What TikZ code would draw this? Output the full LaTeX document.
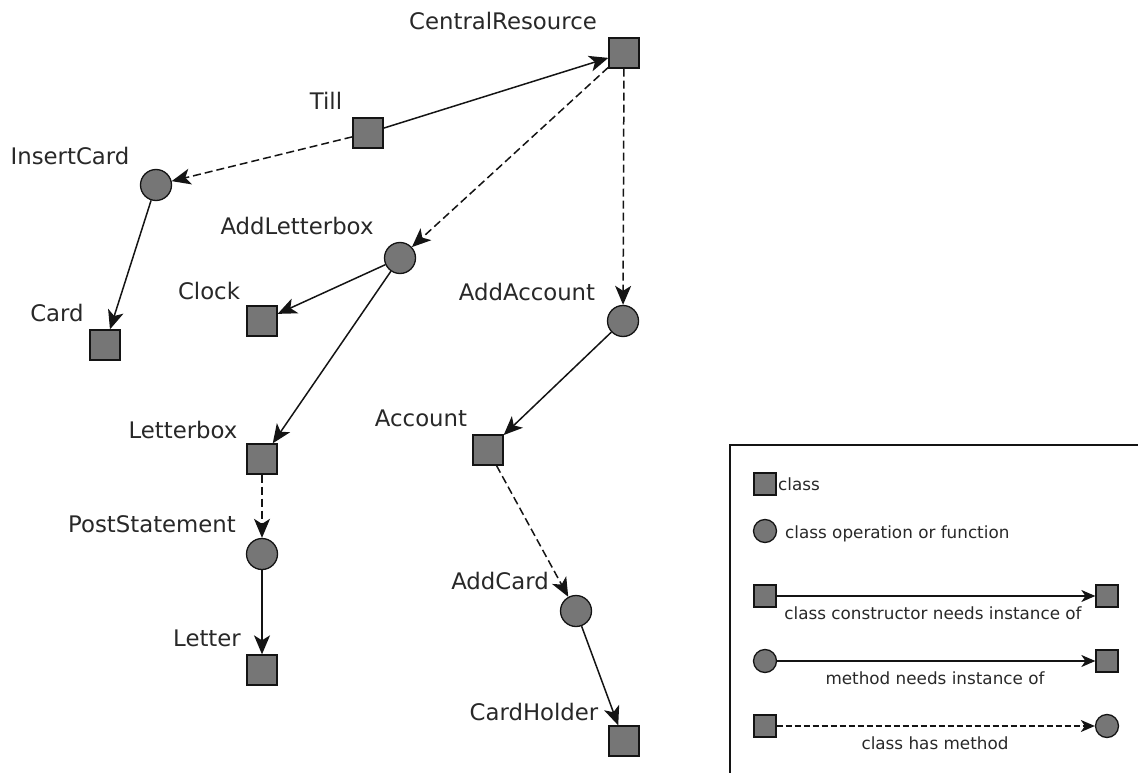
\documentclass[tikz,border=0pt]{standalone}
\usepackage{fontspec}
\setmainfont{DejaVu Sans}
\usetikzlibrary{arrows.meta}

\definecolor{nodefill}{RGB}{118,118,118}
\definecolor{inkcol}{RGB}{20,20,20}
\definecolor{labelcol}{RGB}{40,40,40}

\begin{document}
\begin{tikzpicture}[x=1pt,y=-1pt,
  cls/.style={rectangle,draw=inkcol,fill=nodefill,line width=1.3pt,minimum size=30pt,inner sep=0pt},
  fn/.style={circle,draw=inkcol,fill=nodefill,line width=1.3pt,minimum size=31pt,inner sep=0pt},
  lcls/.style={cls,minimum size=22pt},
  lfn/.style={fn,minimum size=23pt},
  lbl/.style={text=labelcol,font=\fontsize{22.8}{27}\selectfont,inner sep=0pt},
  keytext/.style={text=labelcol,font=\fontsize{16.8}{20}\selectfont,inner sep=0pt},
  needs/.style={draw=inkcol,line width=1.5pt,-{Stealth[length=19pt,width=16pt,inset=5pt]}},
  has/.style={needs,dash pattern=on 8pt off 4pt},
  keyneeds/.style={draw=inkcol,line width=1.4pt,-{Stealth[length=14pt,width=12pt,inset=4pt]}},
  keyhas/.style={keyneeds,dash pattern=on 6pt off 3pt}]

\useasboundingbox (0,0) rectangle (1138,773);

% classes and operations
\node[cls] (central) at (624,53) {};
\node[cls] (till) at (368,133) {};
\node[fn]  (insert) at (156,185) {};
\node[cls] (card) at (105,345) {};
\node[fn]  (addlb) at (400,258) {};
\node[cls] (clock) at (262,321) {};
\node[fn]  (addacc) at (623,321) {};
\node[cls] (letterbox) at (262,459) {};
\node[cls] (account) at (488,450) {};
\node[fn]  (post) at (262,554) {};
\node[fn]  (addcard) at (576,611) {};
\node[cls] (letter) at (262,670) {};
\node[cls] (holder) at (624,741) {};

% names
\node[lbl] (centralname) at (503,21) {CentralResource};
\node[lbl] (tillname) at (326,101) {Till};
\node[lbl] (insertname) at (70,156) {InsertCard};
\node[lbl] (cardname) at (57,313) {Card};
\node[lbl] (addlbname) at (297,226) {AddLetterbox};
\node[lbl] (clockname) at (209,291) {Clock};
\node[lbl] (addaccname) at (527,292) {AddAccount};
\node[lbl] (letterboxname) at (183,430) {Letterbox};
\node[lbl] (accountname) at (421,418) {Account};
\node[lbl] (postname) at (152,524) {PostStatement};
\node[lbl] (addcardname) at (500,581) {AddCard};
\node[lbl] (lettername) at (207,638) {Letter};
\node[lbl] (holdername) at (534,712) {CardHolder};

% dependencies
\draw[needs] (till) -- (central);
\draw[has] (till) -- (insert);
\draw[has] (central) -- (addlb);
\draw[has] (central) -- (addacc);
\draw[needs] (insert) -- (card);
\draw[needs] (addlb) -- (clock);
\draw[needs] (addlb) -- (letterbox);
\draw[needs] (addacc) -- (account);
\draw[has] (letterbox) -- (post);
\draw[needs] (post) -- (letter);
\draw[has] (account) -- (addcard);
\draw[needs] (addcard) -- (holder);

% key
\draw[draw=inkcol,line width=1.3pt] (730,790) -- (730,445) -- (1150,445);
\node[lcls] (k1) at (765,484) {};
\node[keytext,anchor=base west] (k1t) at (778,490) {class};
\node[lfn] (k2) at (765,531) {};
\node[keytext,anchor=base west] (k2t) at (785,538) {class operation or function};
\node[lcls] (k3a) at (765,596) {};
\node[lcls] (k3b) at (1107,596) {};
\draw[keyneeds] (k3a) -- (k3b);
\node[keytext,anchor=base] (k3t) at (933,619) {class constructor needs instance of};
\node[lfn] (k4a) at (765,661) {};
\node[lcls] (k4b) at (1107,661) {};
\draw[keyneeds] (k4a) -- (k4b);
\node[keytext,anchor=base] (k4t) at (935,684) {method needs instance of};
\node[lcls] (k5a) at (765,726) {};
\node[lfn] (k5b) at (1107,726) {};
\draw[keyhas] (k5a) -- (k5b);
\node[keytext,anchor=base] (k5t) at (935,749) {class has method};
\end{tikzpicture}
\end{document}
